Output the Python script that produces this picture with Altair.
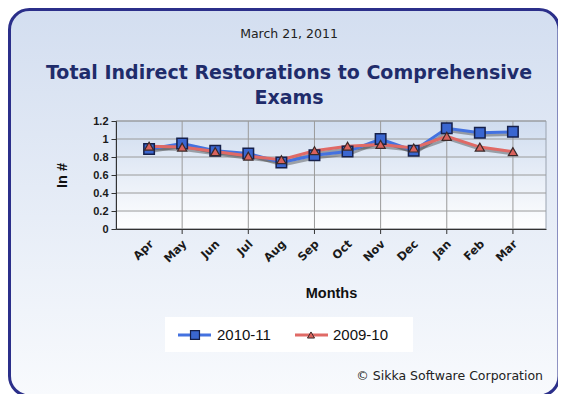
import altair as alt
import pandas as pd

months = ["Apr", "May", "Jun", "Jul", "Aug", "Sep", "Oct", "Nov", "Dec", "Jan", "Feb", "Mar"]
series_names = ["2010-11", "2009-10"]
s2010_11 = [0.89, 0.95, 0.87, 0.84, 0.74, 0.82, 0.86, 1.00, 0.87, 1.12, 1.07, 1.08]
s2009_10 = [0.92, 0.91, 0.86, 0.81, 0.77, 0.87, 0.92, 0.94, 0.90, 1.03, 0.91, 0.86]
y_ticks = [0, 0.2, 0.4, 0.6, 0.8, 1.0, 1.2]
grid_months = ["May", "Jul", "Sep", "Nov", "Jan", "Mar"]

rows = []
for m, a, b in zip(months, s2010_11, s2009_10):
    rows.append({"month": m, "series": "2010-11", "value": a})
    rows.append({"month": m, "series": "2009-10", "value": b})
df = pd.DataFrame(rows)

W, H = 430, 108
FONT = "Liberation Sans"

xscale = alt.Scale(domain=months, padding=1)
yscale = alt.Scale(domain=[0, 1.2], nice=False)

xaxis = alt.Axis(
    title="Months", labelAngle=-45, labelAlign="right", labelBaseline="middle",
    labelFont="DejaVu Sans", labelFontSize=11.5, labelFontWeight="bold", labelColor="#1a1a1a",
    labelPadding=13, labelOffset=3, ticks=False, grid=False, domainColor="#333333", zindex=1,
    titleFont=FONT, titleFontSize=14.5, titleFontWeight="bold", titleColor="#111111",
    titleX=215, titleY=64, titleBaseline="middle", titleAlign="center",
)
yaxis = alt.Axis(
    title="In #", values=y_ticks, format="~g", zindex=1,
    labelFont=FONT, labelFontSize=11, labelFontWeight="bold", labelColor="#1a1a1a",
    tickSize=5, tickColor="#333333", domainColor="#333333", grid=False, labelPadding=3,
    titleFont=FONT, titleFontSize=14.5, titleFontWeight="bold", titleColor="#111111",
    titleX=-54, titleY=54, titleAlign="center", titleBaseline="middle",
)

one = alt.Data(values=[{}])

outer = alt.Chart(one).mark_rect(
    cornerRadius=20, stroke="#2B2F8A", strokeWidth=3,
    fill={"gradient": "linear", "x1": 0, "y1": 0, "x2": 0, "y2": 1,
          "stops": [{"offset": 0, "color": "#D3DEF0"}, {"offset": 1, "color": "#F8FAFD"}]},
).encode(x=alt.value(-106.5), x2=alt.value(443), y=alt.value(-111.5), y2=alt.value(275))

plotbg = alt.Chart(one).mark_rect(
    stroke="#9aa3b0", strokeWidth=1,
    fill={"gradient": "linear", "x1": 0, "y1": 0, "x2": 0, "y2": 1,
          "stops": [{"offset": 0, "color": "#CFDCEF"}, {"offset": 1, "color": "#FFFFFF"}]},
).encode(x=alt.value(0), x2=alt.value(W), y=alt.value(0), y2=alt.value(H))

hgrid = alt.Chart(pd.DataFrame({"v": y_ticks})).mark_rule(color="#9a9a9a", strokeWidth=1).encode(
    y=alt.Y("v:Q", scale=yscale, axis=yaxis), x=alt.value(0), x2=alt.value(W))

vgrid = alt.Chart(pd.DataFrame({"month": grid_months})).mark_rule(color="#9a9a9a", strokeWidth=1).encode(
    x=alt.X("month:O", scale=xscale, axis=xaxis), y=alt.value(0), y2=alt.value(H))

vticks = alt.Chart(pd.DataFrame({"month": grid_months})).mark_rule(color="#333333", strokeWidth=1).encode(
    x=alt.X("month:O", scale=xscale, axis=xaxis), y=alt.value(H), y2=alt.value(H + 5))

colors = alt.Scale(domain=series_names, range=["#4472E0", "#E06A66"])
base = alt.Chart(df).encode(
    x=alt.X("month:O", scale=xscale, axis=xaxis),
    y=alt.Y("value:Q", scale=yscale, axis=yaxis),
)

shadow = base.mark_line(color="#333333", opacity=0.4, strokeWidth=3, xOffset=1.5, yOffset=2.5).encode(
    detail="series:N")
lines = base.mark_line(strokeWidth=3).encode(
    color=alt.Color("series:N", scale=colors, legend=None))

blue_pts = base.transform_filter(alt.datum.series == "2010-11").mark_point(
    shape="square", size=110, filled=True, fill="#3A66D0", stroke="#16204a", strokeWidth=1.5, opacity=1)
red_pts = base.transform_filter(alt.datum.series == "2009-10").mark_point(
    shape="triangle-up", size=85, filled=True, fill="#D9625C", stroke="#3a2a2a", strokeWidth=1.2, opacity=1)

def txt(text, x, y, size, weight="normal", color="#222222", font="DejaVu Sans", align="center"):
    return alt.Chart(one).mark_text(
        text=text, fontSize=size, fontWeight=weight, color=color, font=font,
        align=align, baseline="middle").encode(x=alt.value(x), y=alt.value(y))

date_t = txt("March 21, 2011", 173, -87, 12.5, color="#222222")
title1 = txt("Total Indirect Restorations to Comprehensive", 173, -48, 19, "bold", "#1F2C6B")
title2 = txt("Exams", 173, -23, 19, "bold", "#1F2C6B")
copy_t = txt("© Sikka Software Corporation", 427, 255, 12.5, color="#222222", align="right")

# legend
legbox = alt.Chart(one).mark_rect(fill="white").encode(
    x=alt.value(49), x2=alt.value(297), y=alt.value(196), y2=alt.value(231))
leg_b_line = alt.Chart(one).mark_rule(color="#4472E0", strokeWidth=3).encode(
    x=alt.value(62), x2=alt.value(95), y=alt.value(214))
leg_r_line = alt.Chart(one).mark_rule(color="#E06A66", strokeWidth=3).encode(
    x=alt.value(179), x2=alt.value(212), y=alt.value(214))
leg_b_pt = alt.Chart(one).mark_point(shape="square", size=80, filled=True, fill="#3A66D0",
                                     stroke="#16204a", strokeWidth=1.2, opacity=1).encode(
    x=alt.value(79), y=alt.value(214))
leg_r_pt = alt.Chart(one).mark_point(shape="triangle-up", size=50, filled=True, fill="#D9625C",
                                     stroke="#3a2a2a", strokeWidth=1, opacity=1).encode(
    x=alt.value(195), y=alt.value(214))
leg_b_t = txt(series_names[0], 101, 214, 15, font=FONT, color="#111111", align="left")
leg_r_t = txt(series_names[1], 217, 214, 15, font=FONT, color="#111111", align="left")

chart = alt.layer(
    outer, plotbg, hgrid, vgrid, vticks, shadow, lines, blue_pts, red_pts,
    date_t, title1, title2, copy_t,
    legbox, leg_b_line, leg_r_line, leg_b_pt, leg_r_pt, leg_b_t, leg_r_t,
).properties(
    width=W, height=H,
    autosize=alt.AutoSizeParams(type="none"),
    padding={"left": 108, "top": 113, "right": 12, "bottom": 165},
).configure_view(stroke=None).configure(background="white")

chart.save("out.html", embed_options={"renderer": "svg", "actions": False})
